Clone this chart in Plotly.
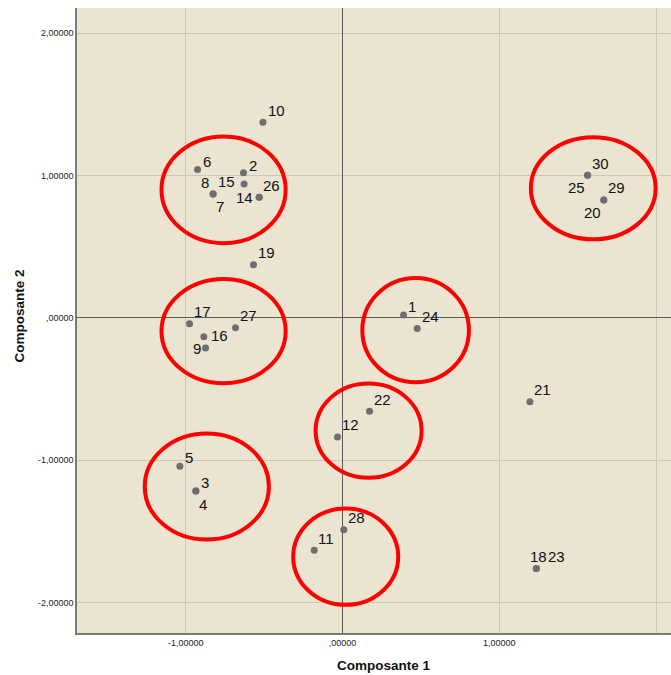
import plotly.graph_objects as go

# ---- data ----
point_ids = ["10", "6", "2", "15", "8", "7", "26", "14", "19",
             "17", "27", "16", "9", "1", "24", "22", "12", "28", "11",
             "5", "3", "4", "30", "25", "29", "20", "21", "18", "23"]
comp1 = [-0.508, -0.925, -0.632, -0.628, -0.826, -0.826, -0.532, -0.532, -0.568,
         -0.976, -0.683, -0.885, -0.874, 0.389, 0.476, 0.172, -0.032, 0.008, -0.181,
         -1.038, -0.936, -0.936, 1.563, 1.563, 1.666, 1.666, 1.195, 1.236, 1.236]
comp2 = [1.373, 1.041, 1.018, 0.940, 0.870, 0.870, 0.847, 0.847, 0.372,
         -0.042, -0.070, -0.133, -0.213, 0.019, -0.075, -0.657, -0.837, -1.488, -1.633,
         -1.043, -1.216, -1.216, 1.001, 1.001, 0.828, 0.828, -0.589, -1.761, -1.761]

# cluster ellipses (data units): centre x, centre y, half width, half height
ell_cx = [-0.759, -0.759, 0.466, 0.166, 0.020, -0.866, 1.599]
ell_cy = [0.899, -0.094, -0.087, -0.793, -1.678, -1.185, 0.910]
ell_rx = [0.396, 0.396, 0.340, 0.338, 0.335, 0.396, 0.398]
ell_ry = [0.375, 0.366, 0.366, 0.331, 0.338, 0.373, 0.359]

tick_vals = [-2, -1, 0, 1, 2]
tick_text = ["-2,00000", "-1,00000", ",00000", "1,00000", "2,00000"]

x_title = "Composante 1"
y_title = "Composante 2"

# ---- styling: label offsets in pixels (dx right, dy down) ----
label_dx = [13.3, 9.7, 9.3, -17.7, -8.0, 7.3, 12.7, -14.7, 13.0,
            13.0, 12.7, 15.3, -9.0, 8.3, 13.0, 12.7, 13.0, 13.0, 12.0,
            9.0, 8.7, 6.7, 13.0, -11.0, 13.0, -11.3, 12.3, 2.5, 20.0]
label_dy = [-12.0, -8.0, -7.7, -2.0, -11.0, 12.3, -12.0, 0.0, -12.0,
            -12.0, -12.3, -1.3, 0.7, -8.3, -12.3, -12.0, -12.3, -11.7, -11.7,
            -8.3, -8.3, 13.3, -11.7, 12.7, -12.0, 12.7, -12.0, -12.0, -12.0]

FONT = "Liberation Sans, Arial, sans-serif"

fig = go.Figure()
fig.add_trace(go.Scatter(
    x=comp1, y=comp2, mode="markers",
    marker=dict(size=7, color="#6e6e6e"),
    hoverinfo="text", text=point_ids, showlegend=False,
))

annotations = []
for pid, xv, yv, dx, dy in zip(point_ids, comp1, comp2, label_dx, label_dy):
    annotations.append(dict(
        x=xv, y=yv, xref="x", yref="y", text=pid, showarrow=False,
        xshift=dx, yshift=-dy, font=dict(family=FONT, size=15, color="#111111"),
    ))

annotations.append(dict(
    x=0.5166, y=-0.0517, xref="paper", yref="paper", text="<b>" + x_title + "</b>",
    showarrow=False, xanchor="center", yanchor="middle",
    font=dict(family=FONT, size=13.5, color="#111111"),
))
annotations.append(dict(
    x=-0.0965, y=0.5074, xref="paper", yref="paper", text="<b>" + y_title + "</b>",
    showarrow=False, xanchor="center", yanchor="middle", textangle=-90,
    font=dict(family=FONT, size=13.5, color="#111111"),
))

shapes = []
for cx, cy, rx, ry in zip(ell_cx, ell_cy, ell_rx, ell_ry):
    shapes.append(dict(
        type="circle", xref="x", yref="y",
        x0=cx - rx, x1=cx + rx, y0=cy - ry, y1=cy + ry,
        line=dict(color="#ff0000", width=4), layer="above",
    ))

axis_common = dict(
    tickvals=tick_vals, ticktext=tick_text,
    showgrid=True, gridcolor="#c9c6bc", gridwidth=1,
    zeroline=True, zerolinecolor="#5a5a5a", zerolinewidth=1.3,
    showline=True, linecolor="#7a7a7a", linewidth=1.5, mirror=False,
    ticks="", tickfont=dict(family=FONT, size=9, color="#222222"),
)

fig.update_layout(
    width=671, height=675, autosize=False,
    margin=dict(l=77, r=0, t=8, b=42),
    paper_bgcolor="white", plot_bgcolor="#eae4d1",
    xaxis=dict(range=[-1.694, 2.095], **axis_common),
    yaxis=dict(range=[-2.214, 2.176], **axis_common),
    annotations=annotations, shapes=shapes,
)

fig.write_html(
    "out.html",
    config={"displayModeBar": False},
    post_script="document.body.style.margin='0';document.body.style.overflow='hidden';",
)
